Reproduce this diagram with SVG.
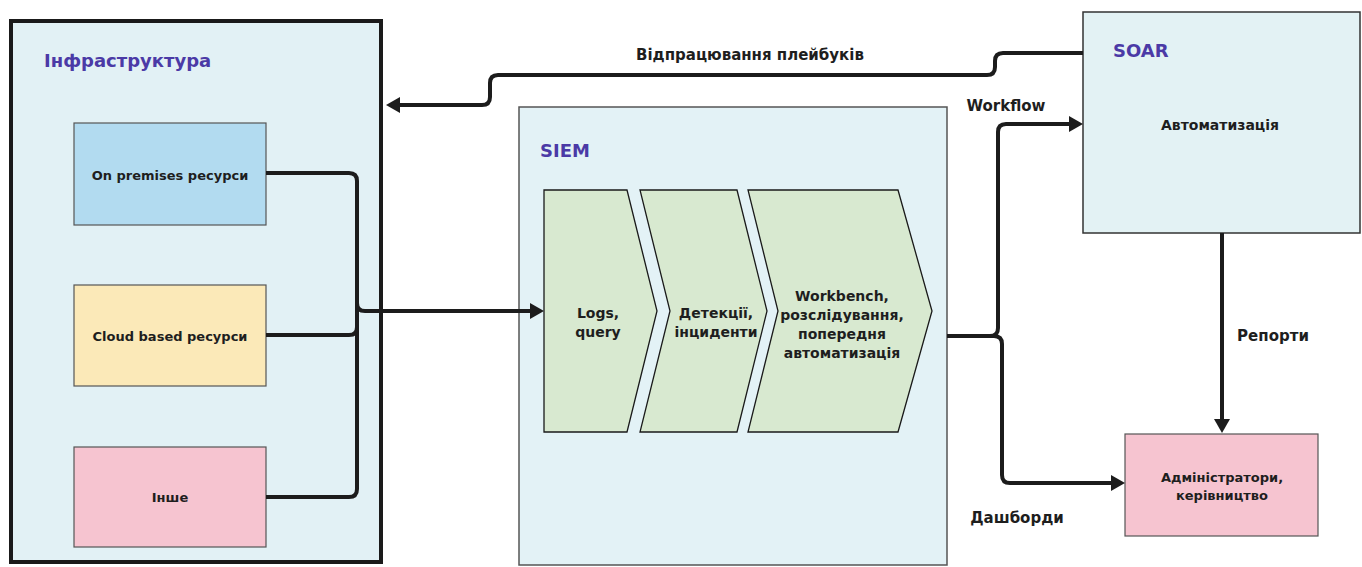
<svg xmlns="http://www.w3.org/2000/svg" width="1362" height="567" viewBox="0 0 1362 567">
<defs>
<marker id="ah" viewBox="0 0 14 16" refX="8" refY="8" markerWidth="14" markerHeight="16" markerUnits="userSpaceOnUse" orient="auto">
<path d="M0,0 L14,8 L0,16 Z" fill="#1c1c1c"/>
</marker>
<style>
.t{font-family:"DejaVu Sans","Liberation Sans",sans-serif;font-weight:bold;fill:#1e1e1e;text-anchor:middle;font-size:13px}
.m{font-size:14px}
.l{font-size:15px}
.h{font-family:"DejaVu Sans","Liberation Sans",sans-serif;font-weight:bold;fill:#4b3aa6;font-size:18px}
.c{fill:none;stroke:#1c1c1c;stroke-width:4;stroke-linejoin:round}
.box{stroke:#555;stroke-width:1.2}
.chev{fill:#d8e9d0;stroke:#1a1a1a;stroke-width:1.3}
</style>
</defs>
<rect width="1362" height="567" fill="#ffffff"/>

<g id="infra">
<rect x="11" y="21" width="370" height="541" fill="#e2f1f5" stroke="#1a1a1a" stroke-width="4"/>
<text class="h" x="44" y="67">Інфраструктура</text>
</g>
<g id="onprem">
<rect class="box" x="74" y="123" width="192" height="102" fill="#b2dbf0"/>
<text class="t" x="170" y="180">On premises ресурси</text>
</g>
<g id="cloud">
<rect class="box" x="74" y="285" width="192" height="101" fill="#fbe9b8"/>
<text class="t" x="170" y="341">Cloud based ресурси</text>
</g>
<g id="other">
<rect class="box" x="74" y="447" width="192" height="100" fill="#f6c4d0"/>
<text class="t" x="170" y="502">Інше</text>
</g>

<g id="siem">
<rect x="519" y="107" width="428" height="458" fill="#e3f2f6" stroke="#555" stroke-width="1.5"/>
<text class="h" x="540" y="157">SIEM</text>
</g>
<g id="logs">
<path class="chev" d="M544,190 L627,190 L657,311 L627,432 L544,432 Z" stroke-width="2.2"/>
<text class="t m" x="598" y="318">Logs,</text>
<text class="t m" x="598" y="337">query</text>
</g>
<g id="detect">
<path class="chev" d="M640,190 L737,190 L767,311 L737,432 L640,432 L670,311 Z"/>
<text class="t m" x="716" y="318">Детекції,</text>
<text class="t m" x="716" y="337">інциденти</text>
</g>
<g id="workbench">
<path class="chev" d="M748,190 L898,190 L932,311 L898,432 L748,432 L778,311 Z"/>
<text class="t m" x="842" y="301">Workbench,</text>
<text class="t m" x="842" y="320">розслідування,</text>
<text class="t m" x="842" y="339">попередня</text>
<text class="t m" x="842" y="358">автоматизація</text>
</g>

<g id="soar">
<rect x="1083" y="12" width="277" height="221" fill="#e3f2f4" stroke="#333" stroke-width="1.5"/>
<text class="h" x="1113" y="57">SOAR</text>
<text class="t m" x="1220" y="130">Автоматизація</text>
</g>

<g id="admins">
<rect class="box" x="1125" y="434" width="193" height="102" fill="#f6c4d0"/>
<text class="t" x="1222" y="482">Адміністратори,</text>
<text class="t" x="1222" y="500">керівництво</text>
</g>

<g id="connectors">
<path class="c" d="M266,173 H349 Q357,173 357,181 V489 Q357,497 349,497 H266"/>
<path class="c" d="M266,335 H349 Q357,335 357,327"/>
<path class="c" d="M357,303 Q357,311 365,311 H538" marker-end="url(#ah)"/>
<path class="c" d="M1083,53 H1003 Q995,53 995,61 V67 Q995,75 987,75 H498 Q490,75 490,83 V97 Q490,105 482,105 H392" marker-end="url(#ah)"/>
<path class="c" d="M947,336 H990 Q998,336 998,328 V132 Q998,124 1006,124 H1077" marker-end="url(#ah)"/>
<path class="c" d="M990,336 H994 Q1002,336 1002,344 V475 Q1002,483 1010,483 H1119" marker-end="url(#ah)"/>
<path class="c" d="M1222,233 V427" marker-end="url(#ah)"/>
</g>

<g id="labels">
<text class="t l" x="750" y="60">Відпрацювання плейбуків</text>
<text class="t l" x="1006" y="111">Workflow</text>
<text class="t l" x="1273" y="341">Репорти</text>
<text class="t l" x="1017" y="523">Дашборди</text>
</g>
</svg>
